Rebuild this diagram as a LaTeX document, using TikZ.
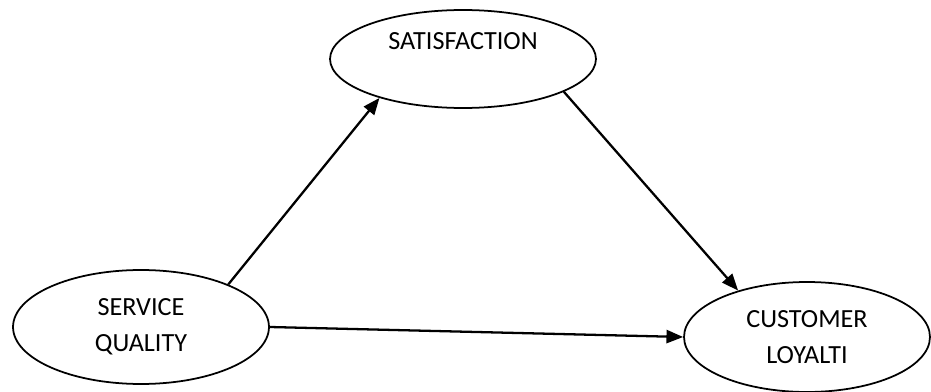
\documentclass[tikz,border=0pt]{standalone}
\usepackage{fontspec}
\setmainfont{Carlito}
\usetikzlibrary{arrows.meta,shapes.geometric}

\begin{document}
\begin{tikzpicture}[x=0.02cm, y=-0.02cm,
  var/.style={draw, ellipse, line width=1pt, inner sep=0pt, align=center,
    font=\fontsize{14.9}{20.5}\selectfont},
  link/.style={-{Triangle[length=9.5pt,width=7.5pt]}, line width=1.3pt}]

\useasboundingbox (0,0) rectangle (931,392);

% nodes
\node[var, minimum width=5.32cm, minimum height=1.96cm] (sat) at (463,59) {SATISFACTION\\ ~};
\node[var, minimum width=5.12cm, minimum height=2.28cm] (sq) at (141,327) {SERVICE\\QUALITY};
\node[var, minimum width=4.92cm, minimum height=2.2cm] (cl) at (807,337) {CUSTOMER\\LOYALTI};

% connections
\draw[link] (sq.26) -- (sat.205);
\draw[link] (sat.-18) -- (cl.146);
\draw[link] (sq.east) -- (cl.west);

\end{tikzpicture}
\end{document}
